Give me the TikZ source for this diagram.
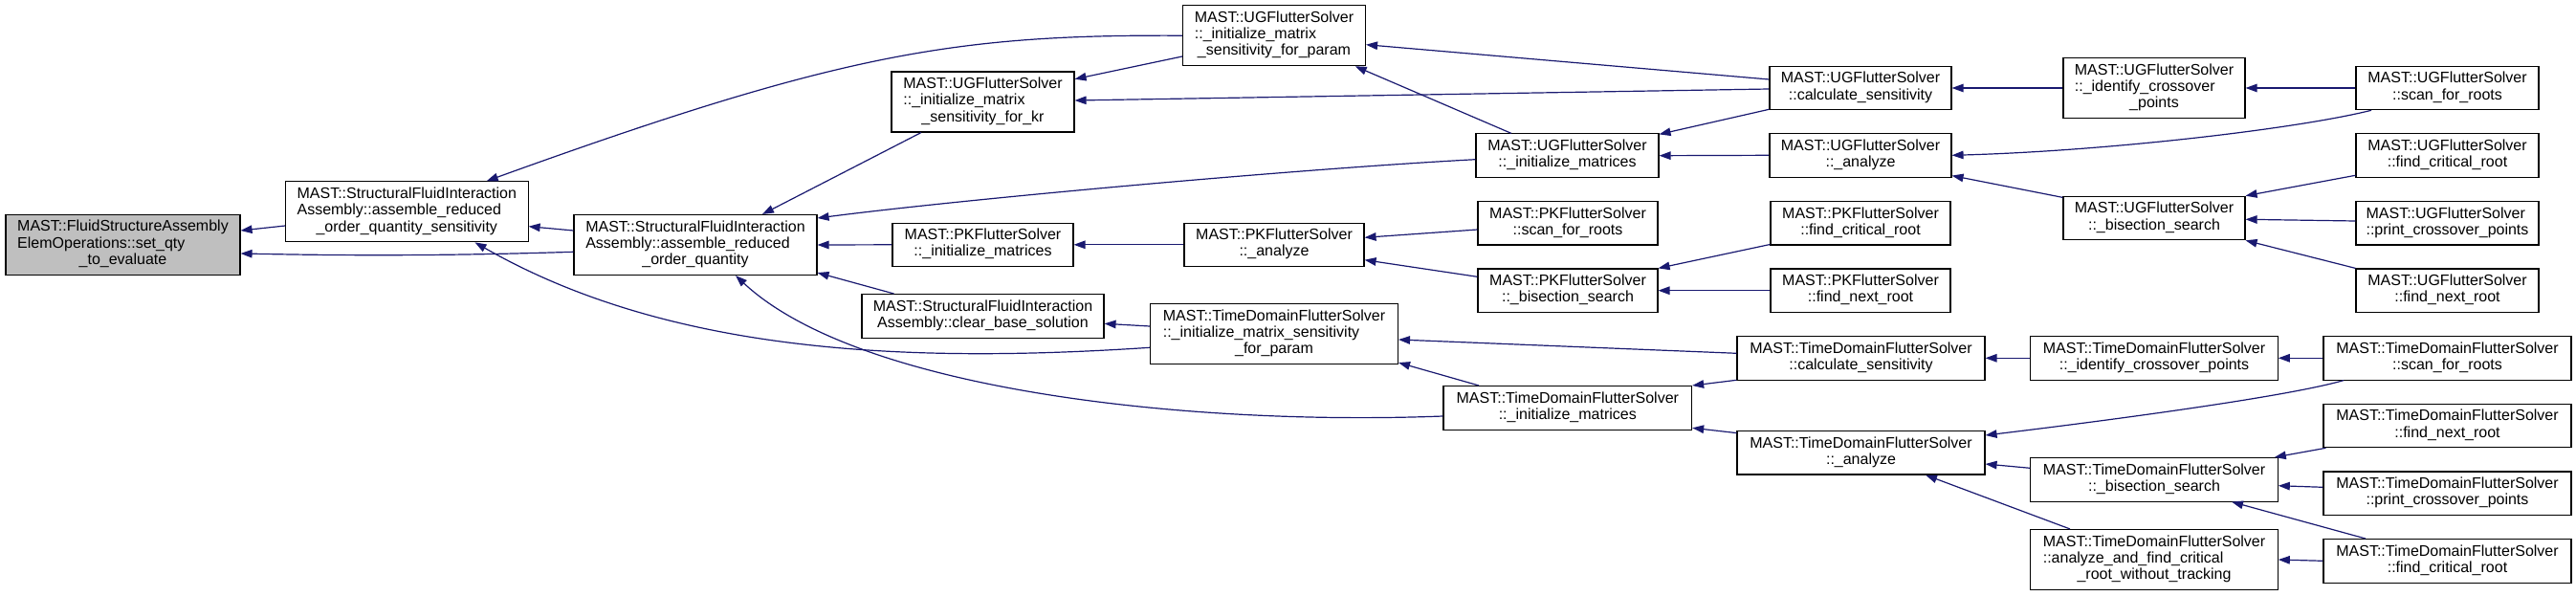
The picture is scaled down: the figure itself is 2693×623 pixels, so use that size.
\documentclass[tikz,border=0pt]{standalone}
\usepackage{fontspec}
\setmainfont{Liberation Sans}
\usetikzlibrary{arrows.meta}
\definecolor{edgeblue}{HTML}{191970}
\definecolor{grayfill}{HTML}{BFBFBF}
\newcommand{\lbltwo}[2]{\begin{tabular}{@{}l@{}}#1\\\multicolumn{1}{@{}c@{}}{#2}\end{tabular}}
\newcommand{\lblthree}[3]{\begin{tabular}{@{}l@{}}#1\\#2\\\multicolumn{1}{@{}c@{}}{#3}\end{tabular}}
\begin{document}
\begin{tikzpicture}[x=1pt,y=-1pt,
  fn/.style={draw=black, line width=1.1pt, fill=white, inner sep=0pt, font=\fontsize{16}{17.3}\selectfont},
  htwo/.style={minimum height=45.5pt},
  hthree/.style={minimum height=63pt},
  call/.style={draw=edgeblue, line width=1.2pt, -{Triangle[length=12pt,width=8.5pt]}},
]
\useasboundingbox (0,0) rectangle (2693,623);
\fill[white] (0,0) rectangle (2693,623);

\node[fn,hthree,fill=grayfill,minimum width=245pt] (A) at (128.5,255.8) {\lblthree{MAST::FluidStructureAssembly}{ElemOperations::set\_qty}{\_to\_evaluate}};
\node[fn,hthree,minimum width=253.5pt] (B) at (425.3,221.3) {\lblthree{MAST::StructuralFluidInteraction}{Assembly::assemble\_reduced}{\_order\_quantity\_sensitivity}};
\node[fn,hthree,minimum width=254pt] (C) at (727,256) {\lblthree{MAST::StructuralFluidInteraction}{Assembly::assemble\_reduced}{\_order\_quantity}};
\node[fn,hthree,minimum width=191pt] (D) at (1332,37.2) {\lblthree{MAST::UGFlutterSolver}{::\_initialize\_matrix}{\_sensitivity\_for\_param}};
\node[fn,hthree,minimum width=191pt] (E) at (1027.5,106.5) {\lblthree{MAST::UGFlutterSolver}{::\_initialize\_matrix}{\_sensitivity\_for\_kr}};
\node[fn,htwo,minimum width=191pt] (F) at (1638.5,162.7) {\lbltwo{MAST::UGFlutterSolver}{::\_initialize\_matrices}};
\node[fn,htwo,minimum width=188pt] (G) at (1639,233.2) {\lbltwo{MAST::PKFlutterSolver}{::scan\_for\_roots}};
\node[fn,htwo,minimum width=189pt] (H) at (1027.5,255.8) {\lbltwo{MAST::PKFlutterSolver}{::\_initialize\_matrices}};
\node[fn,htwo,minimum width=188pt] (I) at (1332,255.8) {\lbltwo{MAST::PKFlutterSolver}{::\_analyze}};
\node[fn,htwo,minimum width=188pt] (J) at (1639,303.7) {\lbltwo{MAST::PKFlutterSolver}{::\_bisection\_search}};
\node[fn,htwo,minimum width=253pt] (K) at (1027.5,330.3) {\lbltwo{MAST::StructuralFluidInteraction}{Assembly::clear\_base\_solution}};
\node[fn,hthree,minimum width=259pt] (L) at (1332,349) {\lblthree{MAST::TimeDomainFlutterSolver}{::\_initialize\_matrix\_sensitivity}{\_for\_param}};
\node[fn,htwo,minimum width=259.6pt] (M) at (1638.8,426.3) {\lbltwo{MAST::TimeDomainFlutterSolver}{::\_initialize\_matrices}};
\node[fn,htwo,minimum width=190pt] (N) at (1945,92) {\lbltwo{MAST::UGFlutterSolver}{::calculate\_sensitivity}};
\node[fn,hthree,minimum width=190pt] (O) at (2252,92) {\lblthree{MAST::UGFlutterSolver}{::\_identify\_crossover}{\_points}};
\node[fn,htwo,minimum width=191pt] (P) at (2558.5,92) {\lbltwo{MAST::UGFlutterSolver}{::scan\_for\_roots}};
\node[fn,htwo,minimum width=190pt] (Q) at (1945,162.3) {\lbltwo{MAST::UGFlutterSolver}{::\_analyze}};
\node[fn,htwo,minimum width=188pt] (R) at (1945,233.2) {\lbltwo{MAST::PKFlutterSolver}{::find\_critical\_root}};
\node[fn,htwo,minimum width=188pt] (S) at (1945,303.7) {\lbltwo{MAST::PKFlutterSolver}{::find\_next\_root}};
\node[fn,htwo,minimum width=190pt] (T) at (2252,228) {\lbltwo{MAST::UGFlutterSolver}{::\_bisection\_search}};
\node[fn,htwo,minimum width=191pt] (U) at (2558.5,162.3) {\lbltwo{MAST::UGFlutterSolver}{::find\_critical\_root}};
\node[fn,htwo,minimum width=191pt] (V) at (2558.5,233.2) {\lbltwo{MAST::UGFlutterSolver}{::print\_crossover\_points}};
\node[fn,htwo,minimum width=191pt] (W) at (2558.5,303.7) {\lbltwo{MAST::UGFlutterSolver}{::find\_next\_root}};
\node[fn,htwo,minimum width=259pt] (X) at (1945.5,374.3) {\lbltwo{MAST::TimeDomainFlutterSolver}{::calculate\_sensitivity}};
\node[fn,htwo,minimum width=258.5pt] (Y) at (2252,374.3) {\lbltwo{MAST::TimeDomainFlutterSolver}{::\_identify\_crossover\_points}};
\node[fn,htwo,minimum width=259pt] (Z) at (2558.5,374.3) {\lbltwo{MAST::TimeDomainFlutterSolver}{::scan\_for\_roots}};
\node[fn,htwo,minimum width=259pt] (AA) at (1945.5,473.2) {\lbltwo{MAST::TimeDomainFlutterSolver}{::\_analyze}};
\node[fn,htwo,minimum width=258.5pt] (AB) at (2252,501.3) {\lbltwo{MAST::TimeDomainFlutterSolver}{::\_bisection\_search}};
\node[fn,htwo,minimum width=259pt] (AC) at (2558.5,445) {\lbltwo{MAST::TimeDomainFlutterSolver}{::find\_next\_root}};
\node[fn,htwo,minimum width=259pt] (AD) at (2558.5,515.7) {\lbltwo{MAST::TimeDomainFlutterSolver}{::print\_crossover\_points}};
\node[fn,hthree,minimum width=258.5pt] (AE) at (2252,585) {\lblthree{MAST::TimeDomainFlutterSolver}{::analyze\_and\_find\_critical}{\_root\_without\_tracking}};
\node[fn,htwo,minimum width=259pt] (AF) at (2558.5,586.3) {\lbltwo{MAST::TimeDomainFlutterSolver}{::find\_critical\_root}};

% connectors: caller -> callee
\draw[call] ([yshift=-14.7pt]B.west) -- ([yshift=14.8pt]A.east);
\draw[call] ([yshift=-7.3pt]C.west) .. controls (450,268) and (350,267) .. ([yshift=-9.2pt]A.east);
\draw[call] ([yshift=15pt]C.west) -- ([yshift=-15.4pt]B.east);
\draw[call] (D.west) .. controls (1000,36) and (880,55) .. ([xshift=83.4pt]B.north);
\draw[call] ([yshift=-14.3pt]L.west) .. controls (950,380) and (700,370) .. ([xshift=71.2pt]B.south);
\draw[call] ([xshift=-64.5pt]E.south) -- ([xshift=70pt]C.north);
\draw[call] ([yshift=-4pt]F.west) .. controls (1350,177) and (1000,209) .. ([yshift=28pt]C.east);
\draw[call] (H.west) -- (C.east);
\draw[call] ([xshift=-93pt]K.north) -- ([yshift=3pt]C.south east);
\draw[call] ([yshift=-8.7pt]M.west) .. controls (1250,445) and (900,410) .. ([xshift=42pt]C.south);
\draw[call] ([yshift=-21.8pt]D.west) -- ([yshift=23.8pt]E.east);
\draw[call] ([yshift=-1pt]N.west) -- ([yshift=1.5pt]E.east);
\draw[call] ([xshift=-58.5pt]F.north) -- ([xshift=84.7pt]D.south);
\draw[call] ([yshift=9pt]N.west) -- ([yshift=-9.5pt]D.east);
\draw[call] ([yshift=1pt]N.south west) -- ([yshift=-1pt]F.north east);
\draw[call] (Q.west) -- (F.east);
\draw[call] (O.west) -- (N.east);
\draw[call] (P.west) -- (O.east);
\draw[call] ([xshift=-79.5pt]P.south) .. controls (2400,135) and (2200,158) .. (Q.east);
\draw[call] ([yshift=-1.7pt]T.north west) -- ([yshift=2pt]Q.south east);
\draw[call] ([yshift=2.3pt]U.south west) -- (T.north east);
\draw[call] ([yshift=2.2pt]V.west) -- ([yshift=-1.3pt]T.east);
\draw[call] (W.north west) -- (T.south east);
\draw[call] (I.west) -- (H.east);
\draw[call] ([yshift=-6.8pt]G.west) -- ([yshift=7.5pt]I.east);
\draw[call] ([yshift=14.4pt]J.west) -- ([yshift=-15.9pt]I.east);
\draw[call] ([yshift=1pt]R.south west) -- (J.north east);
\draw[call] (S.west) -- (J.east);
\draw[call] ([yshift=8pt]L.west) -- ([yshift=-8pt]K.east);
\draw[call] ([yshift=5pt]X.west) -- ([yshift=-6pt]L.east);
\draw[call] ([xshift=-92.8pt]M.north) -- ([yshift=2pt]L.south east);
\draw[call] ([yshift=0.3pt]X.south west) -- (M.north east);
\draw[call] ([yshift=-2.7pt]AA.north west) -- ([yshift=2.3pt]M.south east);
\draw[call] (Y.west) -- (X.east);
\draw[call] (Z.west) -- (Y.east);
\draw[call] ([xshift=-108.5pt]Z.south) .. controls (2390,415) and (2200,440) .. ([yshift=18.2pt]AA.east);
\draw[call] ([yshift=12pt]AB.west) -- ([yshift=-11.8pt]AA.east);
\draw[call] ([xshift=-88pt]AE.north) -- ([xshift=67.5pt]AA.south);
\draw[call] ([xshift=3pt]AC.south west) -- ([xshift=-4pt]AB.north east);
\draw[call] ([yshift=6.4pt]AD.west) -- ([yshift=-6.4pt]AB.east);
\draw[call] ([xshift=-85.5pt]AF.north) -- ([xshift=81pt]AB.south);
\draw[call] (AF.west) -- (AE.east);
\end{tikzpicture}
\end{document}
